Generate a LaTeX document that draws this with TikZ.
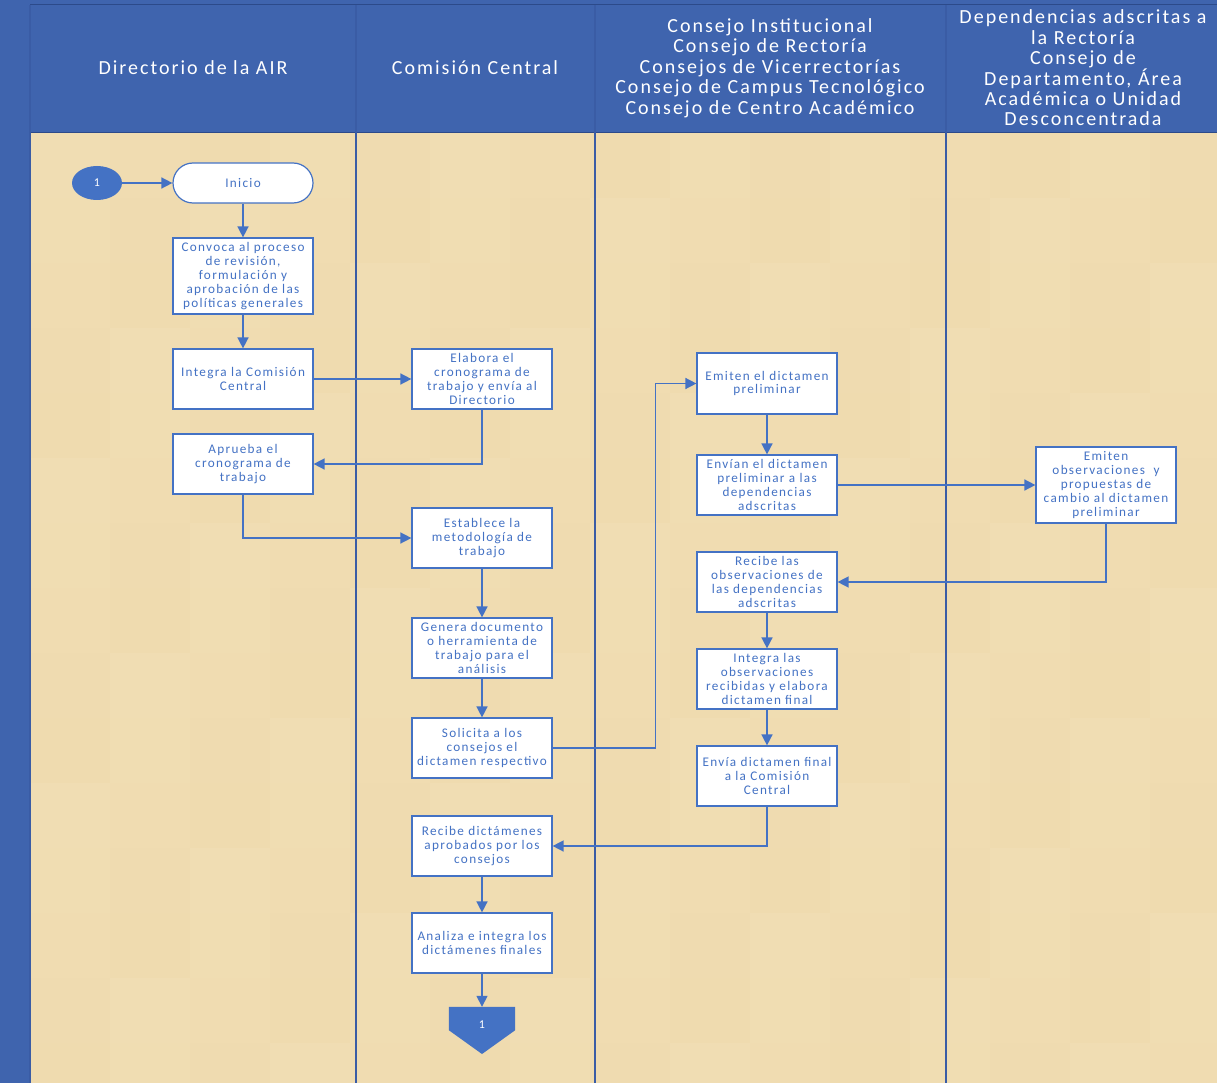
\documentclass[tikz,border=0pt]{standalone}
\usepackage{fontspec}
\setmainfont{Carlito}
\newfontfamily\lsfont{Carlito}[LetterSpace=10]
\usetikzlibrary{arrows.meta,shapes.misc,shapes.geometric}
\definecolor{hdrblue}{RGB}{63,100,174}
\definecolor{hdrline}{RGB}{44,74,138}
\definecolor{laneline}{RGB}{58,92,165}
\definecolor{boxblue}{RGB}{68,114,196}
\definecolor{parch}{RGB}{241,222,180}
\definecolor{parchdk}{RGB}{232,207,156}
\tikzset{
  proc/.style={draw=boxblue, line width=1.2pt, fill=white, minimum width=140, minimum height=60,
    text=boxblue, font=\lsfont\fontsize{13.2}{13.9}\selectfont, align=center, inner sep=0.5pt},
  conn/.style={draw=boxblue, line width=1.5pt, -{Triangle[length=11pt,width=11pt]}},
  hdr/.style={text=white, font=\lsfont\fontsize{20}{20.4}\selectfont, align=center},
}
\begin{document}
\begin{tikzpicture}[x=1pt,y=-1pt]
\useasboundingbox (0,0) rectangle (1217,1083);
% background texture
\fill[parch] (30,133) rectangle (1217,1083);
\foreach \i in {0,...,14}{
  \foreach \j in {0,...,14}{
    \pgfmathtruncatemacro\p{mod(\i*7+\j*11,5)*10+5}
    \fill[parchdk,opacity=\p/250] ({30+\i*80},{133+\j*65}) rectangle ({min(30+\i*80+80,1217)},{min(133+\j*65+65,1083)});
  }
}
% header
\fill[hdrblue] (0,0) rectangle (1217,133);
\fill[hdrblue] (0,0) rectangle (30,1083);
\draw[hdrline,line width=1pt] (30,5) -- (1217,5);
\draw[hdrline,line width=1pt] (30,133) -- (1217,133);
\foreach \x in {30,356,595,946}{
  \draw[laneline,line width=1.5pt] (\x,5) -- (\x,1083);
}
\node[hdr] (h1) at (193,68) {Directorio de la AIR};
\node[hdr] (h2) at (475,68) {Comisión Central};
\node[hdr] (h3) at (770,68) {Consejo Institucional\\Consejo de Rectoría\\Consejos de Vicerrectorías\\Consejo de Campus Tecnológico\\Consejo de Centro Académico};
\node[hdr] (h4) at (1083,68) {Dependencias adscritas a\\la Rectoría\\Consejo de\\Departamento, Área\\Académica o Unidad\\Desconcentrada};
% nodes
\node[ellipse, fill=boxblue, minimum width=50, minimum height=34, inner sep=0, text=white, font=\fontsize{12}{12}\selectfont] (c1) at (97,183) {1};
\node[rectangle, rounded corners=20pt, draw=boxblue, line width=1.2pt, fill=white, minimum width=140, minimum height=40, text=boxblue, font=\lsfont\fontsize{13.2}{13.9}\selectfont] (inicio) at (243,183) {Inicio};
\node[proc, minimum height=76] (convoca) at (243,276) {Convoca al proceso\\de revisión,\\formulación y\\aprobación de las\\políticas generales};
\node[proc] (integra) at (243,379) {Integra la Comisión\\Central};
\node[proc] (aprueba) at (243,464) {Aprueba el\\cronograma de\\trabajo};
\node[proc] (elabora) at (482,379) {Elabora el\\cronograma de\\trabajo y envía al\\Directorio};
\node[proc] (establece) at (482,538) {Establece la\\metodología de\\trabajo};
\node[proc] (genera) at (482,648) {Genera documento\\o herramienta de\\trabajo para el\\análisis};
\node[proc] (solicita) at (482,748) {Solicita a los\\consejos el\\dictamen respectivo};
\node[proc] (recibedict) at (482,846) {Recibe dictámenes\\aprobados por los\\consejos};
\node[proc] (analiza) at (482,943) {Analiza e integra los\\dictámenes finales};
\node[inner sep=0, minimum width=66, minimum height=23] (off) at (482,1018.5) {};
\fill[boxblue] (off.north west) -- (off.north east) -- (off.south east) -- (482,1054) -- (off.south west) -- cycle;
\node[text=white, font=\fontsize{12}{12}\selectfont] (offlbl) at (482,1025) {1};
\node[proc, minimum height=61] (emiten) at (767,383.5) {Emiten el dictamen\\preliminar};
\node[proc] (envian) at (767,485) {Envían el dictamen\\preliminar a las\\dependencias\\adscritas};
\node[proc] (recibeobs) at (767,582) {Recibe las\\observaciones de\\las dependencias\\adscritas};
\node[proc] (integraobs) at (767,679) {Integra las\\observaciones\\recibidas y elabora\\dictamen final};
\node[proc] (enviafinal) at (767,776) {Envía dictamen final\\a la Comisión\\Central};
\node[proc, minimum height=76] (emitenobs) at (1106,485) {Emiten\\observaciones~ y\\propuestas de\\cambio al dictamen\\preliminar};
% connectors
\draw[conn] (c1) -- (inicio);
\draw[conn] (inicio) -- (convoca);
\draw[conn] (convoca) -- (integra);
\draw[conn] (integra) -- (elabora);
\draw[conn] (elabora.south) |- (aprueba.east);
\draw[conn] (aprueba.south) |- (establece.west);
\draw[conn] (establece) -- (genera);
\draw[conn] (genera) -- (solicita);
\draw[conn] (solicita.east) -- ++(103,0) |- (emiten.west);
\draw[conn] (emiten) -- (envian);
\draw[conn] (envian) -- (emitenobs);
\draw[conn] (emitenobs.south) |- (recibeobs.east);
\draw[conn] (recibeobs) -- (integraobs);
\draw[conn] (integraobs) -- (enviafinal);
\draw[conn] (enviafinal.south) |- (recibedict.east);
\draw[conn] (recibedict) -- (analiza);
\draw[conn] (analiza) -- (off.north);
\end{tikzpicture}
\end{document}
